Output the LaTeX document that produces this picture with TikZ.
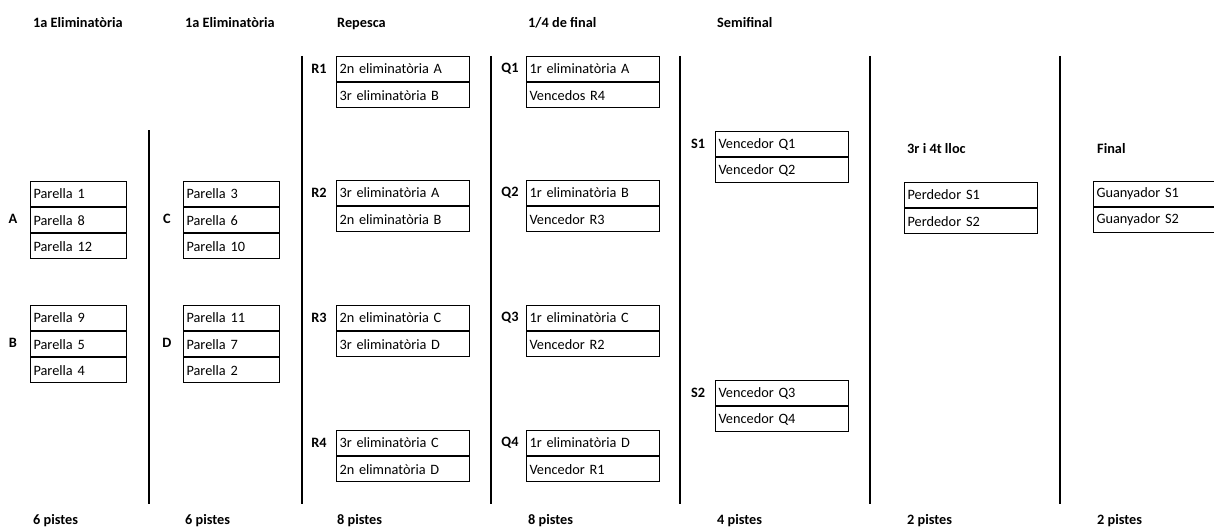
\documentclass[tikz,border=0pt]{standalone}
\usepackage{fontspec}
\setmainfont{Carlito}
\begin{document}
\begin{tikzpicture}[x=1pt,y=-1pt,
  every node/.style={font=\fontsize{14.3}{16}\selectfont},
  cell/.style={draw, line width=1.1pt, anchor=north west, minimum height=25pt,
    inner xsep=3pt, inner ysep=0pt, align=left},
  narrow/.style={cell, text width=90pt},
  wide/.style={cell, text width=127pt},
  lbl/.style={font=\fontsize{14.3}{16}\selectfont\bfseries, inner sep=0pt},
  head/.style={font=\fontsize{14.3}{16}\selectfont\bfseries, anchor=base west, inner sep=0pt},
  divider/.style={line width=1.3pt}]
\useasboundingbox (0,0) rectangle (1214,527);
\clip (0,0) rectangle (1214,527);

% headers
\node[head] (h1) at (33,27.5) {1a Eliminatòria};
\node[head] (h2) at (185,27.5) {1a Eliminatòria};
\node[head] (h3) at (337,27.5) {Repesca};
\node[head] (h4) at (528,27.5) {1/4 de final};
\node[head] (h5) at (717,27.5) {Semifinal};
\node[head] (h6) at (907,153) {3r i 4t lloc};
\node[head] (h7) at (1097,153) {Final};

% footers
\node[head] (f1) at (33,524) {6 pistes};
\node[head] (f2) at (185,524) {6 pistes};
\node[head] (f3) at (337,524) {8 pistes};
\node[head] (f4) at (528,524) {8 pistes};
\node[head] (f5) at (717,524) {4 pistes};
\node[head] (f6) at (907,524) {2 pistes};
\node[head] (f7) at (1097,524) {2 pistes};

% dividers
\coordinate (v1t) at (149,130); \coordinate (v1b) at (149,504);
\coordinate (v2t) at (302,56);  \coordinate (v2b) at (302,504);
\coordinate (v3t) at (491,56);  \coordinate (v3b) at (491,504);
\coordinate (v4t) at (680,56);  \coordinate (v4b) at (680,504);
\coordinate (v5t) at (870,56);  \coordinate (v5b) at (870,504);
\coordinate (v6t) at (1060,56); \coordinate (v6b) at (1060,504);
\foreach \i in {1,...,6} \draw[divider] (v\i t) -- (v\i b);

% group A
\node[narrow] (a1) at (30,181) {Parella 1};
\node[narrow] (a2) at (a1.south west) {Parella 8};
\node[narrow] (a3) at (a2.south west) {Parella 12};
\node[lbl] (la) at (13,219) {A};
% group B
\node[narrow] (b1) at (30,305) {Parella 9};
\node[narrow] (b2) at (b1.south west) {Parella 5};
\node[narrow] (b3) at (b2.south west) {Parella 4};
\node[lbl] (lb) at (13,343) {B};
% group C
\node[narrow] (c1) at (183,181) {Parella 3};
\node[narrow] (c2) at (c1.south west) {Parella 6};
\node[narrow] (c3) at (c2.south west) {Parella 10};
\node[lbl] (lc) at (167,219) {C};
% group D
\node[narrow] (d1) at (183,305) {Parella 11};
\node[narrow] (d2) at (d1.south west) {Parella 7};
\node[narrow] (d3) at (d2.south west) {Parella 2};
\node[lbl] (ld) at (167,343) {D};

% repesca
\node[wide] (r1a) at (336,56) {2n eliminatòria A};
\node[wide] (r1b) at (r1a.south west) {3r eliminatòria B};
\node[lbl] (lr1) at (319,69) {R1};
\node[wide] (r2a) at (336,180) {3r eliminatòria A};
\node[wide] (r2b) at (r2a.south west) {2n eliminatòria B};
\node[lbl] (lr2) at (319,193) {R2};
\node[wide] (r3a) at (336,305) {2n eliminatòria C};
\node[wide] (r3b) at (r3a.south west) {3r eliminatòria D};
\node[lbl] (lr3) at (319,318) {R3};
\node[wide] (r4a) at (336,430) {3r eliminatòria C};
\node[wide] (r4b) at (r4a.south west) {2n elimnatòria D};
\node[lbl] (lr4) at (319,443) {R4};

% quarter finals
\node[wide] (q1a) at (526,56) {1r eliminatòria A};
\node[wide] (q1b) at (q1a.south west) {Vencedos R4};
\node[lbl] (lq1) at (510,69) {Q1};
\node[wide] (q2a) at (526,180) {1r eliminatòria B};
\node[wide] (q2b) at (q2a.south west) {Vencedor R3};
\node[lbl] (lq2) at (510,193) {Q2};
\node[wide] (q3a) at (526,305) {1r eliminatòria C};
\node[wide] (q3b) at (q3a.south west) {Vencedor R2};
\node[lbl] (lq3) at (510,318) {Q3};
\node[wide] (q4a) at (526,430) {1r eliminatòria D};
\node[wide] (q4b) at (q4a.south west) {Vencedor R1};
\node[lbl] (lq4) at (510,443) {Q4};

% semifinals
\node[wide] (s1a) at (715,131) {Vencedor Q1};
\node[wide] (s1b) at (s1a.south west) {Vencedor Q2};
\node[lbl] (ls1) at (698,144) {S1};
\node[wide] (s2a) at (715,380) {Vencedor Q3};
\node[wide] (s2b) at (s2a.south west) {Vencedor Q4};
\node[lbl] (ls2) at (698,393) {S2};

% 3rd/4th place
\node[wide] (p1) at (904,182) {Perdedor S1};
\node[wide] (p2) at (p1.south west) {Perdedor S2};

% final
\node[wide] (g1) at (1093,181) {Guanyador S1};
\node[wide] (g2) at (g1.south west) {Guanyador S2};
\end{tikzpicture}
\end{document}
